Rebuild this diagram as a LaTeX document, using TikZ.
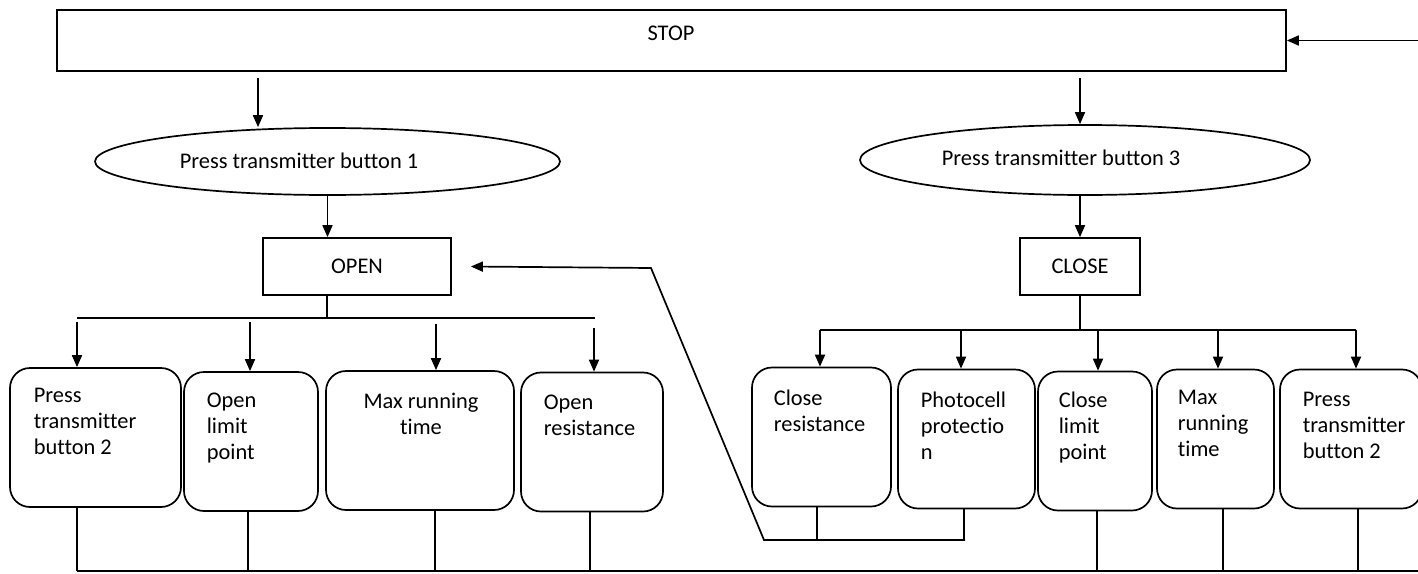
\documentclass[tikz,border=0pt]{standalone}
\usepackage{fontspec}
\setmainfont{Carlito}[Ligatures=NoCommon]
\usetikzlibrary{arrows.meta}
\usetikzlibrary{shapes}

\begin{document}
\begin{tikzpicture}[x=0.5pt,y=-0.5pt,line width=0.85pt,
  >={Triangle[length=6pt,width=5pt]},
  every node/.style={font=\fontsize{11.2}{13}\selectfont},
  box/.style={draw,rectangle,inner sep=0pt},
  stepbox/.style={draw,rectangle,rounded corners=10pt,inner sep=0pt,minimum height=69.5pt},
  oval/.style={draw,ellipse,inner sep=0pt},
  txt/.style={anchor=north west,align=left,inner sep=0pt}]

  \useasboundingbox (0,0) rectangle (1418,573);

  % top row
  \node [box,minimum width=614.5pt,minimum height=30.5pt] (stop) at (671.5,40.5) {};
  \node [] at (671,33) {STOP};
  \node [oval,minimum width=232.5pt,minimum height=33.5pt] (btn1) at (327.5,161.5) {};
  \node [] at (299,161) {Press transmitter button 1};
  \node [oval,minimum width=225pt,minimum height=35pt] (btn3) at (1085,160) {};
  \node [] at (1061,158) {Press transmitter button 3};
  \node [box,minimum width=94pt,minimum height=28.5pt] (open) at (357,266.5) {OPEN};
  \node [box,minimum width=60pt,minimum height=28.5pt] (close) at (1080,266.5) {CLOSE};

  \draw [->] (1418,40.5) -- (stop.east);
  \draw [->] (258,78) -- (258,0 |- btn1.north);
  \draw [->] (1080,78) -- (1080,0 |- btn3.north);
  \draw [->] (btn1.south) -- (btn1.south |- open.north);
  \draw [->] (1080,0 |- btn3.south) -- (close.north);

  % open branch
  \foreach \n/\cx/\cy/\w in {b1/95.5/437.5/85.5,b2/251/441.5/67,b3/420/440.5/94,b4/592/442/71}
    \node [stepbox,minimum width=\w pt] (\n) at (\cx,\cy) {};
  \node [txt] at (33,387) {Press\\transmitter\\button 2};
  \node [txt] at (206,392) {Open\\limit\\point};
  \node [txt,anchor=north,align=center] at (421,392) {Max running\\time};
  \node [txt] at (543,394) {Open\\resistance};

  \coordinate (openbar) at (327,318);
  \draw (open.south -| openbar) -- (openbar);
  \draw (77,318) -- (595,318);
  \foreach \n/\x/\y in {b1/77/322,b2/250/322,b3/436/324,b4/594/328}
    \draw [->] (\x,\y) -- (\x,0 |- \n.north);

  % close branch
  \foreach \n/\cx/\cy/\w in {c1/821.5/437/69.5,c2/966.5/439/68.5,c3/1095/441/57,c4/1215.5/439/58.5,c5/1351/439/71}
    \node [stepbox,minimum width=\w pt] (\n) at (\cx,\cy) {};
  \node [txt] at (773,389) {Close\\resistance};
  \node [txt] at (920,391) {Photocell\\protectio\\n};
  \node [txt] at (1058,391) {Close\\limit\\point};
  \node [txt] at (1177,389) {Max\\running\\time};
  \node [txt] at (1302,391) {Press\\transmitter\\button 2};

  \coordinate (closebar) at (1080,330);
  \draw (close.south) -- (closebar);
  \draw (820,330) -- (1356,330);
  \foreach \n/\x in {c1/820,c2/961,c3/1098,c4/1218,c5/1356}
    \draw [->] (\x,330) -- (\x,0 |- \n.north);

  % back to open
  \coordinate (fbfoot) at (764,540);
  \coordinate (fbknee) at (651,268);
  \draw (817,0 |- c1.south) -- (817,540);
  \draw (964,0 |- c2.south) -- (964,540);
  \draw [->] (965,540) -- (fbfoot) -- (fbknee) -- ([xshift=9.5pt]open.east);

  % common line
  \foreach \n/\x in {b1/77,b2/248,b3/435,b4/590,c3/1097,c4/1223,c5/1358}
    \draw (\x,0 |- \n.south) -- (\x,571);
  \draw (77,571) -- (1418,571);

\end{tikzpicture}
\end{document}
